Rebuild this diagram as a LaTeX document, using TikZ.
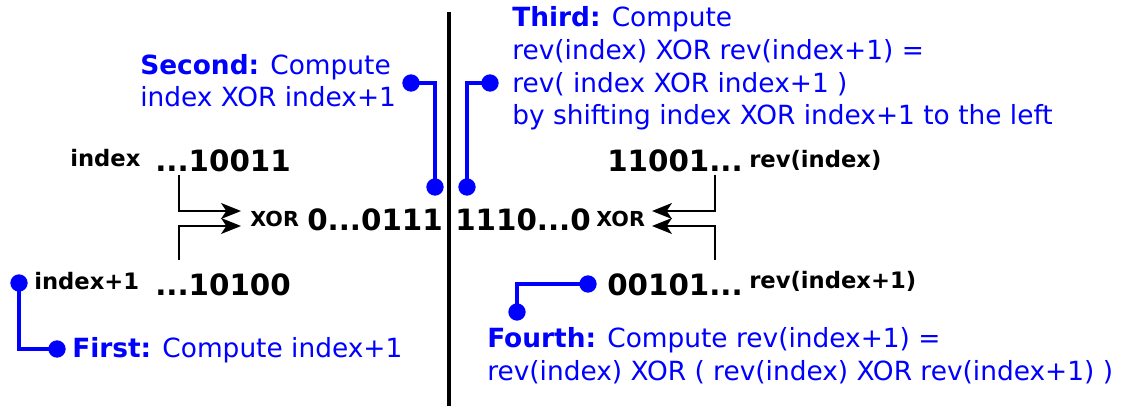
\documentclass[tikz,border=0pt]{standalone}
\usepackage{fontspec}
\setmainfont{DejaVu Sans}
\usetikzlibrary{arrows.meta}
\begin{document}
\begin{tikzpicture}[x=0.75pt,y=-0.75pt,
  bluetext/.style={text=blue, anchor=base west, inner sep=0pt, align=left, font=\fontsize{19.8}{24.6}\selectfont},
  big/.style={anchor=base west, inner sep=0pt, font=\fontsize{22}{26}\selectfont\bfseries},
  lab/.style={anchor=base west, inner sep=0pt, font=\fontsize{17}{20}\selectfont\bfseries},
  xorlab/.style={anchor=base west, inner sep=0pt, font=\fontsize{15.5}{18}\selectfont\bfseries},
  con/.style={blue, line width=2.6pt},
  bdot/.style={circle, fill=blue, inner sep=0pt, minimum size=13pt},
  arr/.style={line width=1.3pt, -{Stealth[length=15pt,width=12pt,inset=4pt,fill=black]}}]
\useasboundingbox (0,0) rectangle (1125,406);

% separator
\coordinate (top) at (449,12);
\coordinate (bot) at (449,406);
\draw[line width=3pt] (top) -- (bot);

% blue texts (anchored at the baseline of the last line)
\node[bluetext] (second) at (140,107) {\textbf{Second:} Compute\\index XOR index+1};
\node[bluetext] (third) at (512,125) {\textbf{Third:} Compute\\rev(index) XOR rev(index+1) =\\rev( index XOR index+1 )\\by shifting index XOR index+1 to the left};
\node[bluetext] (fourth) at (487,380) {\textbf{Fourth:} Compute rev(index+1) =\\rev(index) XOR ( rev(index) XOR rev(index+1) )};
\node[bluetext] (first) at (72,357) {\textbf{First:} Compute index+1};

% left numbers
\node[lab] (lidx) at (70,167) {index};
\node[big] (n1) at (155,172) {...10011};
\node[lab] (lidx1) at (34,289) {index+1};
\node[big] (n2) at (155,296) {...10100};
\node[xorlab] (xorL) at (250,227) {XOR};
\node[big] (resL) at (307,231) {0...0111};

% right numbers
\node[big] (resR) at (455,231) {1110...0};
\node[xorlab] (xorR) at (596,227) {XOR};
\node[big] (r1) at (607,172) {11001...};
\node[lab] (lrev) at (749,168) {rev(index)};
\node[big] (r2) at (607,295) {00101...};
\node[lab] (lrev1) at (749,288) {rev(index+1)};

% XOR arrows
\coordinate (a1s) at (179,175); \coordinate (a1t) at (241,211);
\coordinate (a2s) at (179,260); \coordinate (a2t) at (241,226);
\coordinate (b1s) at (715,175); \coordinate (b1t) at (652,211);
\coordinate (b2s) at (715,260); \coordinate (b2t) at (652,226);
\draw[arr] (a1s) |- (a1t);
\draw[arr] (a2s) |- (a2t);
\draw[arr] (b1s) |- (b1t);
\draw[arr] (b2s) |- (b2t);

% blue callouts
\node[bdot] (d1a) at (19,283) {};
\node[bdot] (d1b) at (57,349) {};
\draw[con] (d1a.center) |- (d1b.center);

\node[bdot] (d2a) at (411,83) {};
\node[bdot] (d2b) at (435,187) {};
\draw[con] (d2a.center) -| (d2b.center);

\node[bdot] (d3a) at (490,83) {};
\node[bdot] (d3b) at (467,187) {};
\draw[con] (d3a.center) -| (d3b.center);

\node[bdot] (d4a) at (588,284) {};
\node[bdot] (d4b) at (517,312) {};
\draw[con] (d4a.center) -| (d4b.center);
\end{tikzpicture}
\end{document}
